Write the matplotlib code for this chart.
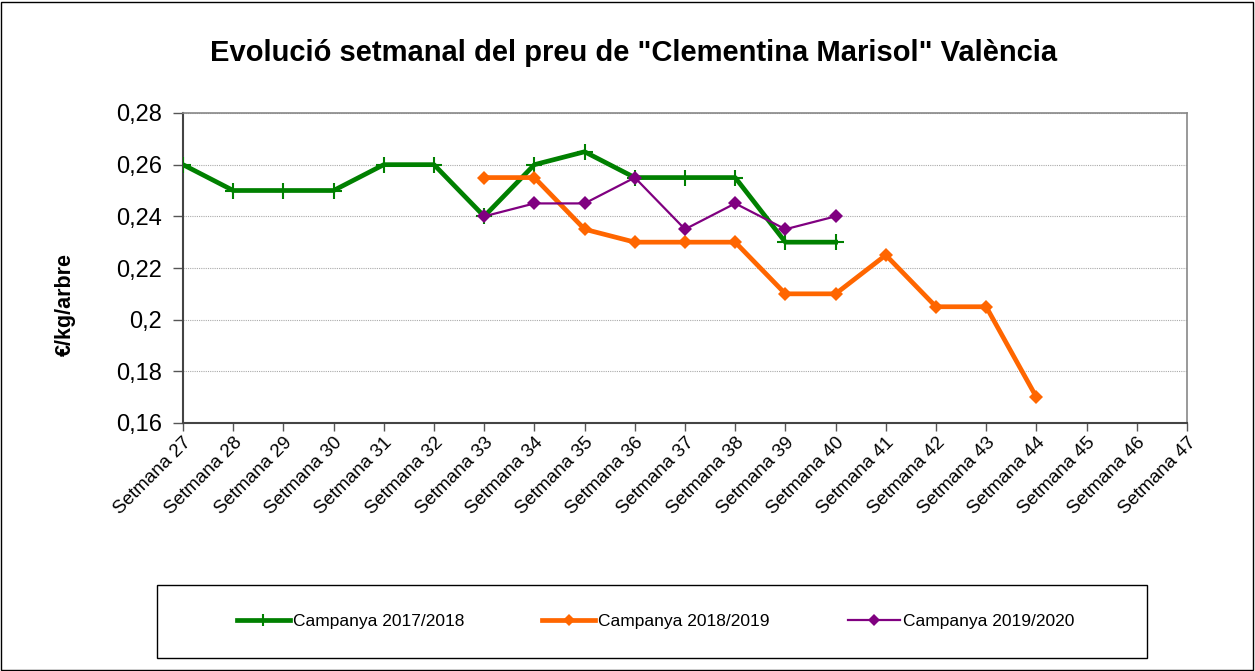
import matplotlib
matplotlib.use("Agg")
import matplotlib.pyplot as plt
from matplotlib.patches import Rectangle
import numpy as np

plt.rcParams['font.family'] = ['Liberation Sans', 'DejaVu Sans']

weeks = [f"Setmana {w}" for w in range(27, 48)]

weeks_1718 = list(range(27, 41))
vals_1718 = [0.26, 0.25, 0.25, 0.25, 0.26, 0.26, 0.24, 0.26, 0.265, 0.255, 0.255, 0.255, 0.23, 0.23]

weeks_1819 = list(range(33, 45))
vals_1819 = [0.255, 0.255, 0.235, 0.23, 0.23, 0.23, 0.21, 0.21, 0.225, 0.205, 0.205, 0.17]

weeks_1920 = list(range(33, 41))
vals_1920 = [0.24, 0.245, 0.245, 0.255, 0.235, 0.245, 0.235, 0.24]

yticks = [0.16, 0.18, 0.2, 0.22, 0.24, 0.26, 0.28]
ytick_labels = ["0,16", "0,18", "0,2", "0,22", "0,24", "0,26", "0,28"]

W, H = 1255, 671
fig = plt.figure(figsize=(W / 100, H / 100), dpi=100)
ax = fig.add_axes([183 / W, 1 - 423 / H, (1187 - 183) / W, (423 - 113) / H])

def xi(ws):
    return [w - 27 for w in ws]

ax.plot(xi(weeks_1718), vals_1718, color='#008000', lw=3.4, marker='+', ms=11, mew=1.5,
        label='Campanya 2017/2018', zorder=3)
ax.plot(xi(weeks_1819), vals_1819, color='#FF6600', lw=3.4, marker='D', ms=7.5, mew=0,
        label='Campanya 2018/2019', zorder=3)
ax.plot(xi(weeks_1920), vals_1920, color='#800080', lw=1.6, marker='D', ms=7.5, mew=0,
        label='Campanya 2019/2020', zorder=4)

ax.set_xlim(0, len(weeks) - 1)
ax.set_ylim(0.16, 0.28)
ax.set_yticks(yticks)
ax.set_yticklabels(ytick_labels, fontsize=17)
ax.set_xticks(range(len(weeks)))
ax.set_xticklabels(weeks, rotation=45, ha='right', va='top', rotation_mode='anchor', fontsize=13.5)
ax.tick_params(axis='x', length=6, width=1, color='#555555', pad=2)
ax.tick_params(axis='y', length=7, width=1, color='#555555', pad=8)

ax.grid(axis='y', color='#aaaaaa', linestyle=(0, (1, 1)), lw=0.8)
ax.set_axisbelow(True)
for s in ['top', 'right']:
    ax.spines[s].set_color('#888888')
    ax.spines[s].set_linewidth(1.2)
for s in ['left', 'bottom']:
    ax.spines[s].set_color('#444444')
    ax.spines[s].set_linewidth(1.5)

ax.set_ylabel('€/kg/arbre', fontsize=15.5, fontweight='bold')
ax.yaxis.set_label_coords(-0.107, 0.381)

fig.text(634 / W, 1 - 53 / H, 'Evolució setmanal del preu de "Clementina Marisol" València',
         ha='center', va='center', fontsize=21, fontweight='bold')

# legend box
fig.add_artist(Rectangle((157 / W, 1 - 658 / H), (1147 - 157) / W, (658 - 585) / H,
                         transform=fig.transFigure, fill=False, ec='black', lw=1))
handles, labels = ax.get_legend_handles_labels()
fig.legend(handles, labels, loc='center', bbox_to_anchor=(656 / W, 1 - 621 / H), ncol=3,
           frameon=False, fontsize=12.5, handlelength=3.0, columnspacing=4.5, handletextpad=0.2,
           markerscale=0.8)

# outer border
fig.add_artist(Rectangle((1 / W, 1 / H), (W - 3) / W, (H - 3) / H,
                         transform=fig.transFigure, fill=False, ec='black', lw=1))

fig.savefig('out.png', dpi=100)
